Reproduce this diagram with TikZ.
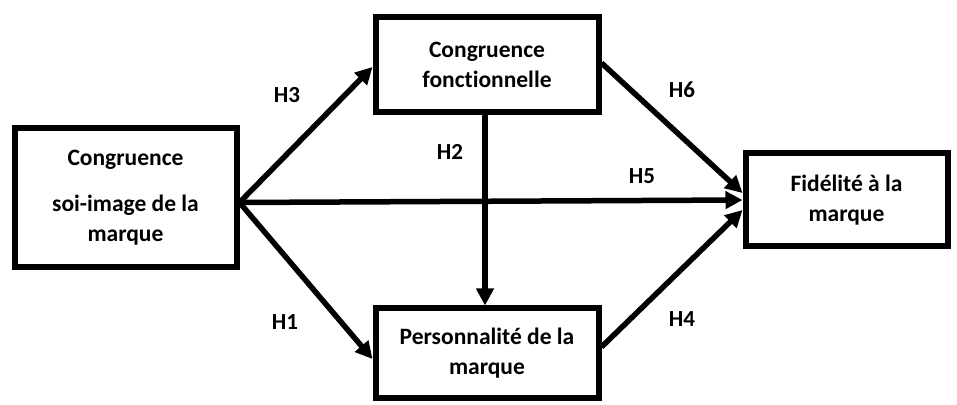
\documentclass[tikz,border=0pt]{standalone}
\usepackage{fontspec}
\setmainfont[Ligatures=NoCommon]{Carlito}
\usetikzlibrary{arrows.meta}
\begin{document}
\begin{tikzpicture}[x=1pt,y=1pt,
  box/.style={draw,line width=6pt,rectangle,inner sep=0pt,align=center,
    font=\fontsize{23.5}{30}\selectfont\bfseries},
  arr/.style={line width=5.5pt,-{Triangle[length=17pt,width=17pt]}},
  hlab/.style={font=\fontsize{23}{26}\selectfont\bfseries,inner sep=0pt}]
\useasboundingbox (0,0) rectangle (957,404);
\node[box,minimum width=222pt,minimum height=139pt] (lbox) at (125.5,206.5)
  {Congruence\\[16pt]soi-image de la\\marque};
\node[box,minimum width=223pt,minimum height=95pt] (tbox) at (487,339)
  {Congruence\\fonctionnelle};
\node[box,minimum width=223pt,minimum height=89pt] (bbox) at (487,51)
  {Personnalité de la\\marque};
\node[box,minimum width=202pt,minimum height=93pt] (rbox) at (846.5,204)
  {Fidélité à la\\marque};
\draw[arr] ([yshift=-5pt]lbox.east) -- ([yshift=-2pt]tbox.west);
\draw[arr] ([yshift=-5pt]lbox.east) -- ([yshift=-6pt]bbox.west);
\draw[arr] ([yshift=-5pt]lbox.east) -- (rbox.west);
\draw[arr] ([xshift=-2pt]tbox.south) -- ([xshift=-2pt]bbox.north);
\draw[arr] ([yshift=2pt]tbox.east) -- ([yshift=7pt]rbox.west);
\draw[arr] ([yshift=6pt]bbox.east) -- ([yshift=-10pt]rbox.west);
\node[hlab] (h3) at (287,309) {H3};
\node[hlab] (h1) at (285,82) {H1};
\node[hlab] (h2) at (450,252) {H2};
\node[hlab] (h6) at (682,314) {H6};
\node[hlab] (h5) at (642,228) {H5};
\node[hlab] (h4) at (682,85) {H4};
\end{tikzpicture}
\end{document}
